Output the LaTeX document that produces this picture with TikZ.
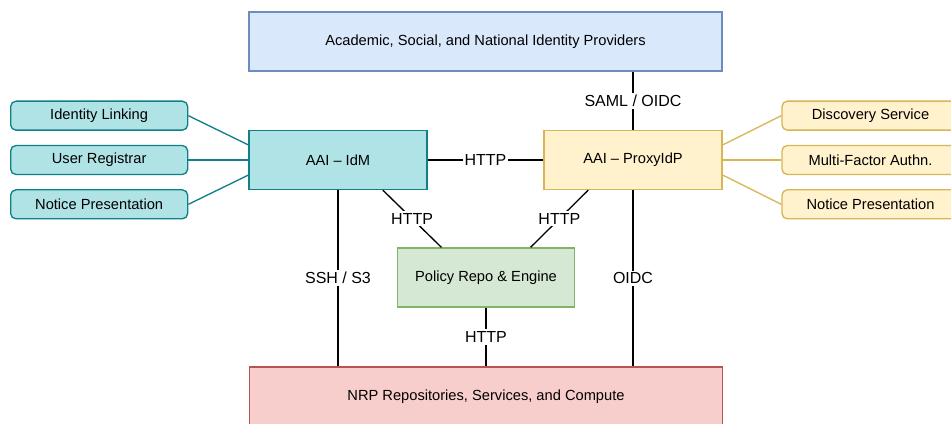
\documentclass[tikz,border=0pt]{standalone}
\usepackage{fontspec}
\setmainfont{Liberation Sans}
\usepackage{xcolor}
\usetikzlibrary{positioning,calc}
\definecolor{idpFill}{HTML}{DAE8FC}
\definecolor{idpLine}{HTML}{6C8EBF}
\definecolor{idmFill}{HTML}{B0E3E6}
\definecolor{idmLine}{HTML}{0E8088}
\definecolor{proxyFill}{HTML}{FFF2CC}
\definecolor{proxyLine}{HTML}{D6B656}
\definecolor{policyFill}{HTML}{D5E8D4}
\definecolor{policyLine}{HTML}{82B366}
\definecolor{nrpFill}{HTML}{F8CECC}
\definecolor{nrpLine}{HTML}{B85450}

\begin{document}
\begin{tikzpicture}[x=0.75pt, y=-0.75pt,
        box/.style={draw, line width=1pt, inner sep=0pt, minimum height=44.25pt,
                    minimum width=133.5pt, font=\fontsize{11}{13}\selectfont},
        wide/.style={box, minimum width=354.75pt},
        side/.style={box, rounded corners=4pt, minimum height=21.75pt, minimum width=132.75pt},
        link/.style={line width=1pt},
        lbl/.style={fill=white, inner sep=1.5pt, font=\fontsize{12}{14}\selectfont},
        node distance=10.5pt and 45pt
    ]
        \useasboundingbox (0,0) rectangle (951,424);
        \node[wide, fill=idpFill, draw=idpLine] (idp) at (485.5,41.5) {Academic, Social, and National Identity Providers};
        \node[box, fill=idmFill, draw=idmLine] (idm) at (338,160) {AAI -- IdM};
        \node[box, fill=proxyFill, draw=proxyLine] (proxy) at (633,160) {AAI -- ProxyIdP};
        \node[box, fill=policyFill, draw=policyLine, minimum width=132.75pt] (policy) at (486,277.5) {Policy Repo \& Engine};
        \node[wide, fill=nrpFill, draw=nrpLine] (nrp) at (486,396.5) {NRP Repositories, Services, and Compute};

        \node[side, fill=idmFill, draw=idmLine, left=of idm] (registrar) {User Registrar};
        \node[side, fill=idmFill, draw=idmLine, above=of registrar] (linking) {Identity Linking};
        \node[side, fill=idmFill, draw=idmLine, below=of registrar] (noticeL) {Notice Presentation};
        \node[side, fill=proxyFill, draw=proxyLine, right=44pt of proxy] (mfa) {Multi-Factor Authn.};
        \node[side, fill=proxyFill, draw=proxyLine, above=of mfa] (discovery) {Discovery Service};
        \node[side, fill=proxyFill, draw=proxyLine, below=of mfa] (noticeR) {Notice Presentation};

        \draw[link, idmLine] (linking.east) -- ($(idm.north west)!0.25!(idm.south west)$);
        \draw[link, idmLine] (registrar) -- (idm);
        \draw[link, idmLine] (noticeL.east) -- ($(idm.north west)!0.75!(idm.south west)$);
        \draw[link, proxyLine] ($(proxy.north east)!0.25!(proxy.south east)$) -- (discovery.west);
        \draw[link, proxyLine] (proxy) -- (mfa);
        \draw[link, proxyLine] ($(proxy.north east)!0.75!(proxy.south east)$) -- (noticeR.west);

        \draw[link] (proxy.north) -- node[lbl] {SAML / OIDC} (proxy.north |- idp.south);
        \draw[link] (idm) -- node[lbl] {HTTP} (proxy);
        \draw[link] ($(idm.south west)!0.75!(idm.south east)$) -- node[lbl] {HTTP} ($(policy.north west)!0.25!(policy.north east)$);
        \draw[link] ($(proxy.south west)!0.25!(proxy.south east)$) -- node[lbl] {HTTP} ($(policy.north west)!0.75!(policy.north east)$);
        \draw[link] (idm.south) -- node[lbl] {SSH / S3} (idm.south |- nrp.north);
        \draw[link] (proxy.south) -- node[lbl] {OIDC} (proxy.south |- nrp.north);
        \draw[link] (policy) -- node[lbl] {HTTP} (nrp);
    \end{tikzpicture}
\end{document}
